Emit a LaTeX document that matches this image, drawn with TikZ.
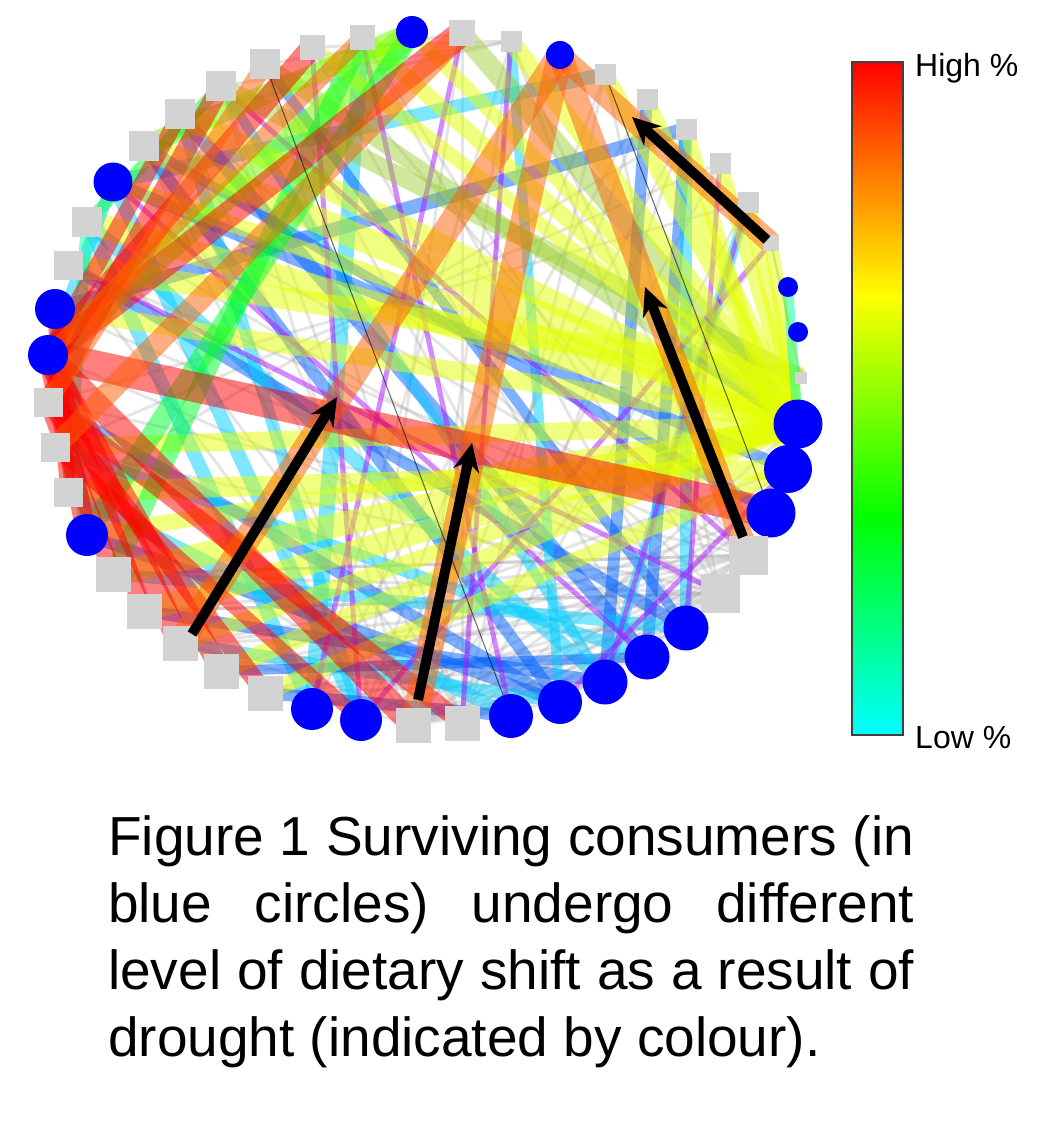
\documentclass[tikz,border=0pt]{standalone}
\usepackage{fontspec}
\setmainfont{Liberation Sans}
\usetikzlibrary{arrows.meta}
\pgfdeclarelayer{edges}
\pgfsetlayers{edges,main}
\definecolor{ndgray}{RGB}{211,211,211}
\definecolor{ndblue}{RGB}{0,0,255}
\definecolor{cR}{RGB}{255,0,0}
\definecolor{cO}{RGB}{255,95,0}
\definecolor{cY}{RGB}{228,255,0}
\definecolor{cYG}{RGB}{150,205,40}
\definecolor{cG}{RGB}{0,255,40}
\definecolor{cL}{RGB}{120,255,0}
\definecolor{cC}{RGB}{0,205,255}
\definecolor{cB}{RGB}{0,95,255}
\definecolor{cP}{RGB}{170,20,255}
\definecolor{cM}{RGB}{0,255,160}
\definecolor{cGr}{RGB}{150,150,150}
\tikzset{
  sq/.style={shape=rectangle, fill=ndgray, draw=none, minimum size=#1, inner sep=0pt},
  cc/.style={shape=circle, fill=ndblue, draw=none, minimum size=#1, inner sep=0pt},
  eR/.style={draw=cR, draw opacity=.5, line width=#1pt},
  eO/.style={draw=cO, draw opacity=.5, line width=#1pt},
  eY/.style={draw=cY, draw opacity=.5, line width=#1pt},
  eYG/.style={draw=cYG, draw opacity=.45, line width=#1pt},
  eG/.style={draw=cG, draw opacity=.5, line width=#1pt},
  eL/.style={draw=cL, draw opacity=.55, line width=#1pt},
  eC/.style={draw=cC, draw opacity=.5, line width=#1pt},
  eB/.style={draw=cB, draw opacity=.5, line width=#1pt},
  eP/.style={draw=cP, draw opacity=.5, line width=#1pt},
  eM/.style={draw=cM, draw opacity=.5, line width=#1pt},
  eGr/.style={draw=cGr, draw opacity=.25, line width=3pt},
  eDk/.style={draw=black, draw opacity=.6, line width=1pt},
  bigarrow/.style={draw=black, line width=10pt, -{Stealth[length=28pt,width=26pt,inset=9pt]}},
  barlabel/.style={anchor=base west, inner sep=0pt, font=\fontsize{32pt}{36pt}\selectfont}
}
\newcommand\edg[3]{\draw[#1] (#2.center) -- (#3.center);}
\begin{document}
\begin{tikzpicture}[x=1pt,y=-1pt]
\useasboundingbox (0,0) rectangle (1043,1128);
% ---------- nodes ----------
\node[cc=32pt] (n1) at (412,32) {};
\node[sq=26pt] (n2) at (462,33) {};
\node[sq=21pt] (n3) at (511,41) {};
\node[cc=28pt] (n4) at (560,55) {};
\node[sq=21pt] (n5) at (605,74) {};
\node[sq=21pt] (n6) at (647,99) {};
\node[sq=21pt] (n7) at (686,129) {};
\node[sq=21pt] (n8) at (720,163) {};
\node[sq=21pt] (n9) at (748,202) {};
\node[sq=16pt] (n10) at (771,243) {};
\node[cc=20pt] (n11) at (788,287) {};
\node[cc=20pt] (n12) at (798,332) {};
\node[sq=12pt] (n13) at (801,378) {};
\node[cc=49pt] (n14) at (798,424) {};
\node[cc=48pt] (n15) at (788,469) {};
\node[cc=49pt] (n16) at (771,513) {};
\node[sq=39pt] (n17) at (748,555) {};
\node[sq=39pt] (n18) at (720,593) {};
\node[cc=45pt] (n19) at (686,628) {};
\node[cc=45pt] (n20) at (647,657) {};
\node[cc=45pt] (n21) at (605,682) {};
\node[cc=44pt] (n22) at (560,702) {};
\node[cc=44pt] (n23) at (511,716) {};
\node[sq=35pt] (n24) at (462,723) {};
\node[sq=35pt] (n25) at (413,725) {};
\node[cc=42pt] (n26) at (361,720) {};
\node[cc=42pt] (n27) at (312,709) {};
\node[sq=35pt] (n28) at (265,693) {};
\node[sq=35pt] (n29) at (221,671) {};
\node[sq=35pt] (n30) at (180,643) {};
\node[sq=35pt] (n31) at (144,611) {};
\node[sq=35pt] (n32) at (113,574) {};
\node[cc=42pt] (n33) at (87,535) {};
\node[sq=29pt] (n34) at (68,492) {};
\node[sq=29pt] (n35) at (55,447) {};
\node[sq=29pt] (n36) at (48,402) {};
\node[cc=40pt] (n37) at (48,355) {};
\node[cc=40pt] (n38) at (55,309) {};
\node[sq=29pt] (n39) at (68,265) {};
\node[sq=30pt] (n40) at (87,222) {};
\node[cc=39pt] (n41) at (113,182) {};
\node[sq=30pt] (n42) at (144,146) {};
\node[sq=30pt] (n43) at (180,114) {};
\node[sq=30pt] (n44) at (221,86) {};
\node[sq=30pt] (n45) at (265,64) {};
\node[sq=25pt] (n46) at (312,47) {};
\node[sq=25pt] (n47) at (362,37) {};
% ---------- edges ----------
\begin{pgfonlayer}{edges}
\foreach \a/\b in {n17/n24,n17/n25,n17/n28,n17/n23,n18/n24,n18/n25,n18/n26,n18/n22,n18/n27,n17/n22,
  n19/n25,n19/n24,n20/n25,n20/n28,n21/n25,n21/n28,n22/n25,n17/n29,n18/n29,n18/n30,n17/n30,n17/n31,
  n18/n32,n24/n16,n25/n15,n24/n14,n3/n25,n3/n24,n3/n18,n3/n17,n5/n18,n5/n24,n6/n25,n7/n24,n8/n25,
  n9/n24,n10/n25,n2/n24,n47/n18,n46/n17,n45/n24,n44/n25,n43/n18,n42/n24,n40/n18,n39/n17,n36/n17,
  n35/n18,n34/n24,n32/n17,n31/n18,n30/n24,n29/n25,n3/n43,n3/n44,n3/n46,n2/n45,n36/n9,n35/n8,n34/n7,
  n39/n25,n40/n24,n42/n25,n43/n24,n44/n24,n19/n28,n20/n29,n19/n30,n18/n31,n17/n32,n16/n28,n15/n29,
  n16/n26,n47/n19,n46/n20,n45/n21,n5/n26,n6/n27,n7/n26,n3/n27,n2/n26,n41/n17,n38/n18,n37/n19}
  {\draw[eGr] (\a.center) -- (\b.center);}
% blue / cyan
\edg{eC=14}{n41}{n5}
\edg{eB=14}{n7}{n38}
\edg{eB=12}{n7}{n20}
\edg{eB=12}{n6}{n21}
\edg{eC=12}{n7}{n19}
\edg{eB=14}{n43}{n20}
\edg{eC=16}{n47}{n27}
\edg{eB=12}{n42}{n22}
\edg{eC=14}{n40}{n21}
\edg{eB=12}{n39}{n19}
\edg{eB=12}{n33}{n22}
\edg{eC=14}{n34}{n23}
\edg{eC=12}{n35}{n20}
\edg{eB=12}{n36}{n22}
\edg{eC=14}{n26}{n41}
\edg{eC=14}{n27}{n40}
\edg{eC=12}{n26}{n43}
\edg{eB=12}{n31}{n21}
\edg{eC=12}{n30}{n22}
\edg{eB=10}{n29}{n20}
\edg{eB=12}{n28}{n23}
\edg{eC=12}{n32}{n19}
\edg{eB=10}{n45}{n19}
\edg{eC=10}{n44}{n21}
\edg{eC=10}{n3}{n22}
\edg{eC=10}{n9}{n21}
\edg{eB=12}{n41}{n15}
\edg{eB=10}{n42}{n16}
% purple
\edg{eP=5}{n2}{n27}
\edg{eP=5}{n19}{n8}
\edg{eP=5}{n22}{n15}
\edg{eP=5}{n46}{n26}
\edg{eP=5}{n44}{n17}
\edg{eP=5}{n23}{n47}
\edg{eP=5}{n20}{n41}
\edg{eP=5}{n21}{n9}
\edg{eP=5}{n10}{n26}
\edg{eP=5}{n3}{n24}
\edg{eP=5}{n39}{n18}
% yellow
\edg{eY=26}{n42}{n14}
\edg{eY=22}{n43}{n14}
\edg{eY=24}{n40}{n14}
\edg{eY=22}{n39}{n13}
\edg{eYG=20}{n2}{n14}
\edg{eY=18}{n3}{n14}
\edg{eYG=18}{n44}{n13}
\edg{eY=24}{n32}{n14}
\edg{eY=22}{n31}{n14}
\edg{eY=18}{n29}{n14}
\edg{eY=20}{n34}{n15}
\edg{eY=16}{n5}{n14}
\edg{eY=14}{n6}{n14}
\edg{eY=14}{n8}{n14}
\edg{eY=14}{n9}{n14}
\edg{eYG=16}{n45}{n14}
\edg{eY=18}{n35}{n14}
\edg{eY=16}{n28}{n15}
\edg{eY=14}{n46}{n14}
\edg{eY=14}{n7}{n15}
\edg{eY=16}{n47}{n14}
\edg{eY=16}{n41}{n14}
\edg{eY=18}{n38}{n14}
\edg{eY=16}{n33}{n14}
\edg{eY=16}{n30}{n14}
\edg{eY=14}{n10}{n14}
\edg{eY=14}{n1}{n14}
% green
\edg{eL=26}{n1}{n37}
\edg{eG=20}{n1}{n33}
\edg{eG=18}{n47}{n32}
\edg{eL=20}{n1}{n42}
\edg{eC=12}{n41}{n37}
\edg{eM=12}{n40}{n34}
\edg{eM=14}{n38}{n33}
\edg{eG=12}{n40}{n44}
\edg{eM=10}{n11}{n14}
\edg{eM=12}{n14}{n16}
% red
\edg{eR=30}{n37}{n16}
\edg{eR=26}{n37}{n2}
\edg{eR=22}{n46}{n37}
\edg{eR=20}{n44}{n36}
\edg{eR=24}{n37}{n25}
\edg{eR=20}{n37}{n29}
\edg{eR=24}{n37}{n30}
\edg{eR=18}{n37}{n31}
\edg{eR=18}{n36}{n32}
\edg{eR=18}{n36}{n28}
\edg{eR=20}{n37}{n33}
\edg{eR=16}{n38}{n34}
\edg{eR=18}{n36}{n24}
\edg{eR=14}{n35}{n26}
\edg{eR=16}{n43}{n37}
\edg{eO=22}{n2}{n35}
\edg{eO=18}{n45}{n36}
\edg{eO=16}{n47}{n37}
% orange
\edg{eO=26}{n4}{n30}
\edg{eO=26}{n4}{n25}
\edg{eO=24}{n4}{n17}
\edg{eO=22}{n4}{n10}
% thin dark
\edg{eDk}{n45}{n23}
\edg{eDk}{n5}{n16}
\edg{eYG=2}{n10}{n13}
\end{pgfonlayer}
% ---------- arrows ----------
\coordinate (a1s) at (192,634); \coordinate (a1e) at (337,397);
\coordinate (a2s) at (418,700); \coordinate (a2e) at (472,443);
\coordinate (a3s) at (743,537); \coordinate (a3e) at (645,287);
\coordinate (a4s) at (767,240); \coordinate (a4e) at (632,117);
\draw[bigarrow] (a1s) -- (a1e);
\draw[bigarrow] (a2s) -- (a2e);
\draw[bigarrow] (a3s) -- (a3e);
\draw[bigarrow] (a4s) -- (a4e);
% ---------- colour bar ----------
\shade[top color=red, bottom color=yellow] (852,62) rectangle (903,296);
\shade[top color=yellow, bottom color=green] (852,295) rectangle (903,518);
\shade[top color=green, bottom color=cyan] (852,517) rectangle (903,735);
\draw[draw=black!75, line width=1.2pt] (852,62) rectangle (903,735);
\node[barlabel] (hi) at (915,76) {High \%};
\node[barlabel] (lo) at (915,748) {Low \%};
% ---------- caption ----------
\node[anchor=base west, inner sep=0pt] (cap) at (108,855) {\parbox[t]{806pt}{\fontsize{55pt}{67pt}\selectfont
\hyphenpenalty=10000 \exhyphenpenalty=10000 \tolerance=10000
Figure 1 Surviving consumers (in\linebreak blue circles) undergo different\linebreak level of dietary shift as a result of\linebreak drought (indicated by colour).}};
\end{tikzpicture}
\end{document}
